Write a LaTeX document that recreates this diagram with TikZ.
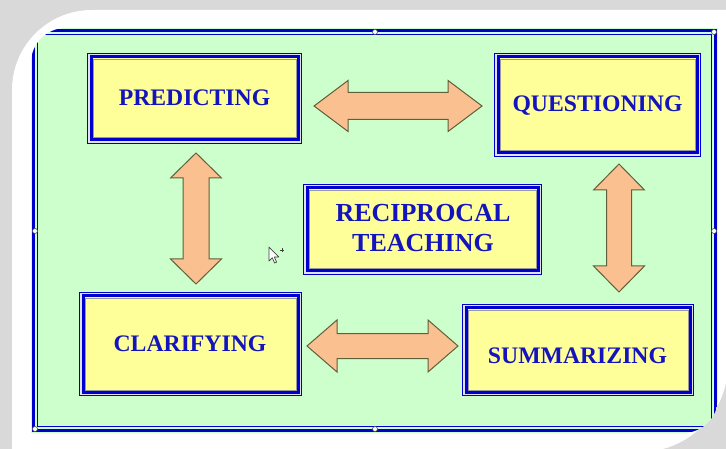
\documentclass[tikz,border=0pt]{standalone}
\usepackage{fontspec}
\setmainfont{Liberation Serif}
\usetikzlibrary{calc}
\definecolor{bgGrey}{RGB}{217,217,217}
\definecolor{panelGreen}{RGB}{204,255,204}
\definecolor{frameBlue}{RGB}{0,0,204}
\definecolor{boxYellow}{RGB}{255,255,153}
\definecolor{textBlue}{RGB}{20,20,190}
\definecolor{arrowFill}{RGB}{250,192,144}
\definecolor{arrowLine}{RGB}{95,95,60}
\tikzset{
  outerbox/.style={draw=frameBlue, line width=1.5pt, fill=frameBlue!12, inner sep=0pt, outer sep=0pt},
  innerbox/.style={draw=frameBlue, line width=3pt, fill=boxYellow},
  innergrey/.style={draw=gray!80, line width=0.8pt},
  lbl/.style={text=textBlue, font=\bfseries\fontsize{23.7}{27}\selectfont, inner sep=0pt},
  biglbl/.style={text=textBlue, font=\bfseries\fontsize{26}{30}\selectfont, inner sep=0pt, align=center},
  blockarrow/.style={fill=arrowFill, draw=arrowLine, line width=1pt, line join=miter},
  handle/.style={circle, draw=black!70, fill=white, line width=0.6pt, minimum size=5pt, inner sep=0pt},
}
% name, center, width, height
\newcommand\rtbox[4]{%
  \node[outerbox, minimum width=#3, minimum height=#4] (#1) at (#2) {};
  \draw[innerbox] ([shift={(3.5,-3.5)}]#1.south west) rectangle ([shift={(-3.5,3.5)}]#1.north east);
  \draw[innergrey] ([shift={(5.6,-5.6)}]#1.south west) rectangle ([shift={(-5.6,5.6)}]#1.north east);
}
% x1, x2, yc, head length, head half, shaft half
\newcommand\hdarrow[6]{%
  \draw[blockarrow] (#1,#3) -- (#1+#4,#3-#5) -- (#1+#4,#3-#6) -- (#2-#4,#3-#6) -- (#2-#4,#3-#5) -- (#2,#3)
    -- (#2-#4,#3+#5) -- (#2-#4,#3+#6) -- (#1+#4,#3+#6) -- (#1+#4,#3+#5) -- cycle;
}
% y1, y2, xc, head length, head half, shaft half
\newcommand\vdarrow[6]{%
  \draw[blockarrow] (#3,#1) -- (#3+#5,#1+#4) -- (#3+#6,#1+#4) -- (#3+#6,#2-#4) -- (#3+#5,#2-#4) -- (#3,#2)
    -- (#3-#5,#2-#4) -- (#3-#6,#2-#4) -- (#3-#6,#1+#4) -- (#3-#5,#1+#4) -- cycle;
}
\begin{document}
\begin{tikzpicture}[x=1pt,y=-1pt]
\useasboundingbox (0,0) rectangle (726,449);
% background and white frame
\fill[bgGrey] (0,0) rectangle (726,449);
\fill[white] (12,455) -- (12,90) .. controls (12,45.8) and (47.8,10) .. (92,10) -- (740,10) -- (740,364)
  -- (728,364) .. controls (728,412.6) and (688.6,452) .. (640,452) -- (640,455) -- cycle;
\begin{scope}
  \clip (31,433) -- (31,63) .. controls (31,43.7) and (46.7,28) .. (66,28) -- (718,28) -- (718,398)
    .. controls (718,417.3) and (702.3,433) .. (683,433) -- cycle;
  \fill[panelGreen] (31,28) rectangle (718,433);
  \draw[frameBlue, line width=3pt] (33.5,30.5) rectangle (715.5,430.5);
  \draw[frameBlue, line width=1pt] (37.5,34.5) rectangle (711.5,426.5);
  % boxes
  \rtbox{pred}{194.5,98.5}{214}{90}
  \rtbox{ques}{597.5,105}{206}{103}
  \rtbox{clar}{190.5,344}{222}{103}
  \rtbox{summ}{578,350}{231}{91}
  \rtbox{recip}{422.5,229.5}{238}{90}
  % labels
  \node[lbl, anchor=base] (predt) at (194.5,106) {PREDICTING};
  \node[lbl, anchor=base] (quest) at (597.5,112) {QUESTIONING};
  \node[lbl, anchor=base] (clart) at (190,351) {CLARIFYING};
  \node[lbl, anchor=base] (summt) at (577.5,363) {SUMMARIZING};
  \node[biglbl] (recipt) at (423,228) {RECIPROCAL\\TEACHING};
  % block arrows
  \hdarrow{314}{482}{106}{34}{25.5}{13.5}
  \hdarrow{307}{458}{346}{30}{26}{12.5}
  \vdarrow{153}{284}{196}{25}{25.5}{13}
  \vdarrow{164}{292}{619}{26}{25.5}{12.5}
  % cursor
  \begin{scope}[shift={(269,247)}]
    \draw[fill=white, draw=black!75, line width=0.7pt, line join=round]
      (0,0) -- (0,14) -- (3.3,10.8) -- (5.6,16) -- (7.6,15.1) -- (5.3,10) -- (9.8,10) -- cycle;
    \draw[black!75, line width=0.8pt] (11,3) -- (15,3) (13,1) -- (13,5);
  \end{scope}
  % selection handles
  \node[handle] (h1) at (35,231) {};
  \node[handle] (h2) at (375,32) {};
  \node[handle] (h3) at (714,32) {};
  \node[handle] (h4) at (714,231) {};
  \node[handle] (h5) at (375,429) {};
  \node[handle] (h6) at (35,429) {};
\end{scope}
\end{tikzpicture}
\end{document}
